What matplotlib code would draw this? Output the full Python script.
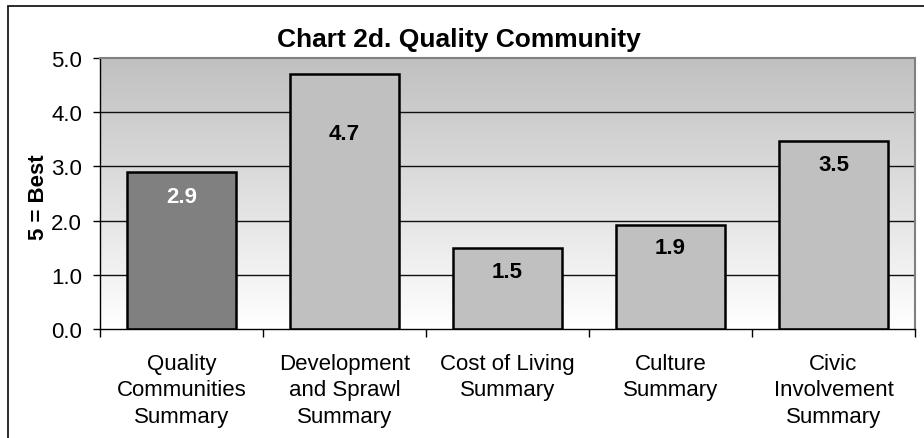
import matplotlib
matplotlib.use("Agg")
import matplotlib.pyplot as plt
import numpy as np
from matplotlib.patches import Rectangle
from matplotlib.ticker import FixedLocator, NullFormatter
from matplotlib.colors import LinearSegmentedColormap

categories = ["Quality\nCommunities\nSummary", "Development\nand Sprawl\nSummary",
              "Cost of Living\nSummary", "Culture\nSummary",
              "Civic\nInvolvement\nSummary"]
values = [2.90, 4.70, 1.49, 1.92, 3.47]
y_ticks = [0.0, 1.0, 2.0, 3.0, 4.0, 5.0]
title = "Chart 2d. Quality Community"
y_label = "5 = Best"

bar_colors = ["#808080", "#C0C0C0", "#C0C0C0", "#C0C0C0", "#C0C0C0"]
label_colors = ["white", "black", "black", "black", "black"]
label_offsets_px = [25, 59, 23, 23, 24]

plt.rcParams['font.family'] = ['Liberation Sans', 'DejaVu Sans']

W, H = 924, 439
fig = plt.figure(figsize=(W / 100, H / 100), dpi=100)
fig.patch.set_facecolor("white")

# outer border (extends beyond right/bottom edges)
fig.patches.append(Rectangle((8 / W, -0.1), 1.2, 1 - 7 / H + 0.1,
                             transform=fig.transFigure, fill=False,
                             edgecolor="#1a1a1a", linewidth=1.3))

L, R, T, B = 100, 915, 59, 330
ax = fig.add_axes([L / W, 1 - B / H, (R - L) / W, (B - T) / H])

n = len(values)
x = np.arange(n)
ax.set_xlim(-0.5, n - 0.5)
ax.set_ylim(0, 5)

# gradient background
grad = np.linspace(0, 1, 256).reshape(-1, 1)
cmap = LinearSegmentedColormap.from_list("g", ["#FFFFFF", "#C0C0C0"])
ax.imshow(grad, aspect="auto", cmap=cmap, origin="lower",
          extent=[-0.5, n - 0.5, 0, 5], zorder=0)

# gridlines
for yv in y_ticks[1:-1]:
    ax.axhline(yv, color="#111111", linewidth=1.0, zorder=1)

bars = ax.bar(x, values, width=0.67, color=bar_colors, edgecolor="black",
              linewidth=1.8, zorder=2)

for i, (b, v) in enumerate(zip(bars, values)):
    ax.annotate(f"{v:.1f}", xy=(b.get_x() + b.get_width() / 2, v),
                xytext=(0, -label_offsets_px[i] * 0.72), textcoords="offset points",
                ha="center", va="center", fontsize=16, fontweight="bold",
                color=label_colors[i], zorder=3)

# spines
ax.spines["left"].set_color("black")
ax.spines["left"].set_linewidth(1.0)
ax.spines["bottom"].set_color("black")
ax.spines["bottom"].set_linewidth(1.0)
ax.spines["top"].set_color("#808080")
ax.spines["right"].set_color("#808080")
ax.spines["top"].set_linewidth(1.5)
ax.spines["right"].set_linewidth(1.5)

ax.set_yticks(y_ticks)
ax.set_yticklabels([f"{t:.1f}" for t in y_ticks])
ax.tick_params(axis="y", direction="out", length=5, width=1.0, pad=8,
               labelsize=16, colors="black")

ax.xaxis.set_major_locator(FixedLocator(np.arange(-0.5, n, 1.0)))
ax.xaxis.set_major_formatter(NullFormatter())
ax.xaxis.set_minor_locator(FixedLocator(x))
ax.set_xticklabels(categories, minor=True)
ax.tick_params(axis="x", which="major", direction="out", length=6, width=1.0)
ax.tick_params(axis="x", which="minor", length=0, pad=17, labelsize=16)
for lbl in ax.get_xticklabels(minor=True):
    lbl.set_linespacing(1.35)

fig.text(459 / W, 1 - 40 / H, title, ha="center", va="center",
         fontsize=19, fontweight="bold")
fig.text(39 / W, 1 - 197 / H, y_label, ha="center", va="center",
         rotation=90, fontsize=16, fontweight="bold")

fig.savefig("out.png", dpi=100, facecolor="white")
